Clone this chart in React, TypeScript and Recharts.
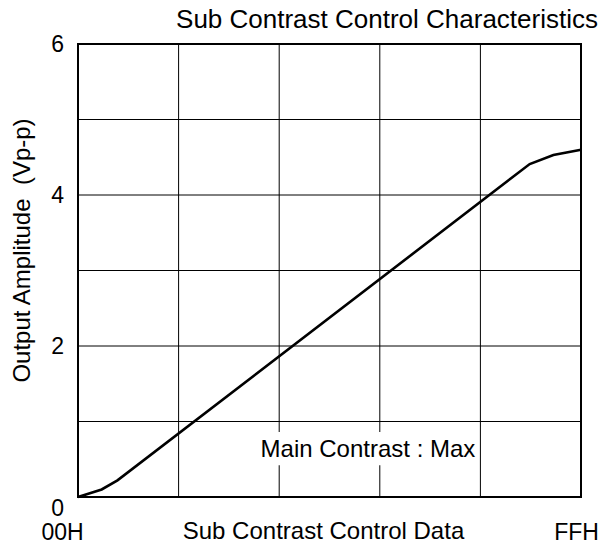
import {
  LineChart,
  Line,
  XAxis,
  YAxis,
  CartesianGrid,
  ReferenceArea,
} from "recharts";

// ─── Data ────────────────────────────────────────────────────────────────────

// sub contrast control data (00H..FFH as 0..255)
const codes = [0, 12, 20, 229, 241, 255];
// output amplitude (Vp-p)
const amps = [0, 0.1, 0.22, 4.41, 4.53, 4.6];

const xTicks = [0, 51, 102, 153, 204, 255];
const yTicks = [0, 1, 2, 3, 4, 5, 6];
const xTickLabels: Record<number, string> = { 0: "00H", 255: "FFH" };
const yTickLabels: Record<number, string> = { 0: "0", 2: "2", 4: "4", 6: "6" };

const FONT = "'Liberation Sans', Arial, sans-serif";

const data = codes.map((c, i) => ({ code: c, amp: amps[i] }));

//Ticks

function YTick(props: { x?: number; y?: number; payload?: { value: number } }) {
  const { x = 0, y = 0, payload } = props;
  const label = yTickLabels[payload?.value ?? -1];
  if (!label) return <g />;
  // the zero sits a little below the axis in the original
  const shift = payload?.value === 0 ? 11 : 0;
  return (
    <text
      x={x}
      y={y + shift}
      dy="0.355em"
      textAnchor="end"
      fontSize={23}
      fontFamily={FONT}
      fill="#000"
    >
      {label}
    </text>
  );
}

function XTick(props: { x?: number; y?: number; payload?: { value: number } }) {
  const { x = 0, y = 0, payload } = props;
  const label = xTickLabels[payload?.value ?? -1];
  if (!label) return <g />;
  const dx = payload?.value === 0 ? -15.5 : -4.5;
  return (
    <text
      x={x + dx}
      y={y + 35}
      textAnchor="middle"
      fontSize={23}
      fontFamily={FONT}
      fill="#000"
    >
      {label}
    </text>
  );
}

export default function App() {
  return (
    <div style={{ width: 613, height: 547, background: "#fff" }}>
      <style>{"body{margin:0}"}</style>
      <LineChart
        width={613}
        height={547}
        data={data}
        margin={{ top: 44, right: 32, bottom: 0, left: 0 }}
      >
        <CartesianGrid stroke="#000" strokeWidth={1} />

        <XAxis
          type="number"
          dataKey="code"
          domain={[0, 255]}
          ticks={xTicks}
          interval={0}
          height={50}
          axisLine={false}
          tickLine={false}
          tickMargin={2}
          tick={<XTick />}
          label={{
            value: "Sub Contrast Control Data",
            content: ({ viewBox }: any) => (
              <text
                x={viewBox.x + viewBox.width / 2 - 6}
                y={viewBox.y + 42}
                textAnchor="middle"
                fontSize={24}
                fontFamily={FONT}
                fill="#000"
              >
                Sub Contrast Control Data
              </text>
            ),
          }}
        />

        <YAxis
          type="number"
          domain={[0, 6]}
          ticks={yTicks}
          interval={0}
          width={78}
          axisLine={false}
          tickLine={false}
          tickMargin={8}
          tick={<YTick />}
          label={{
            value: "Output Amplitude  (Vp-p)",
            content: ({ viewBox }: any) => {
              const cx = 30;
              const cy = viewBox.y + viewBox.height / 2 - 20;
              return (
                <text
                  x={cx}
                  y={cy}
                  transform={`rotate(-90, ${cx}, ${cy})`}
                  textAnchor="middle"
                  fontSize={24}
                  fontFamily={FONT}
                  fill="#000"
                  style={{ whiteSpace: "pre" }}
                >
                  Output Amplitude  (Vp-p)
                </text>
              );
            },
          }}
        />

        {/* white box behind the note, hides grid lines */}
        <ReferenceArea
          x1={91}
          x2={203}
          y1={0.42}
          y2={0.86}
          fill="#fff"
          fillOpacity={1}
          stroke="none"
          label={{
            value: "Main Contrast : Max",
            position: "center",
            fontSize: 24,
            fontFamily: FONT,
            fill: "#000",
          }}
        />

        {/* frame */}
        <ReferenceArea
          x1={0}
          x2={255}
          y1={0}
          y2={6}
          fill="none"
          fillOpacity={0}
          stroke="#000"
          strokeWidth={2}
        />

        <Line
          type="linear"
          dataKey="amp"
          stroke="#000"
          strokeWidth={2.6}
          dot={false}
          isAnimationActive={false}
        />

        <text
          x={598}
          y={28}
          textAnchor="end"
          fontSize={26}
          fontFamily={FONT}
          fill="#000"
        >
          Sub Contrast Control Characteristics
        </text>
      </LineChart>
    </div>
  );
}
